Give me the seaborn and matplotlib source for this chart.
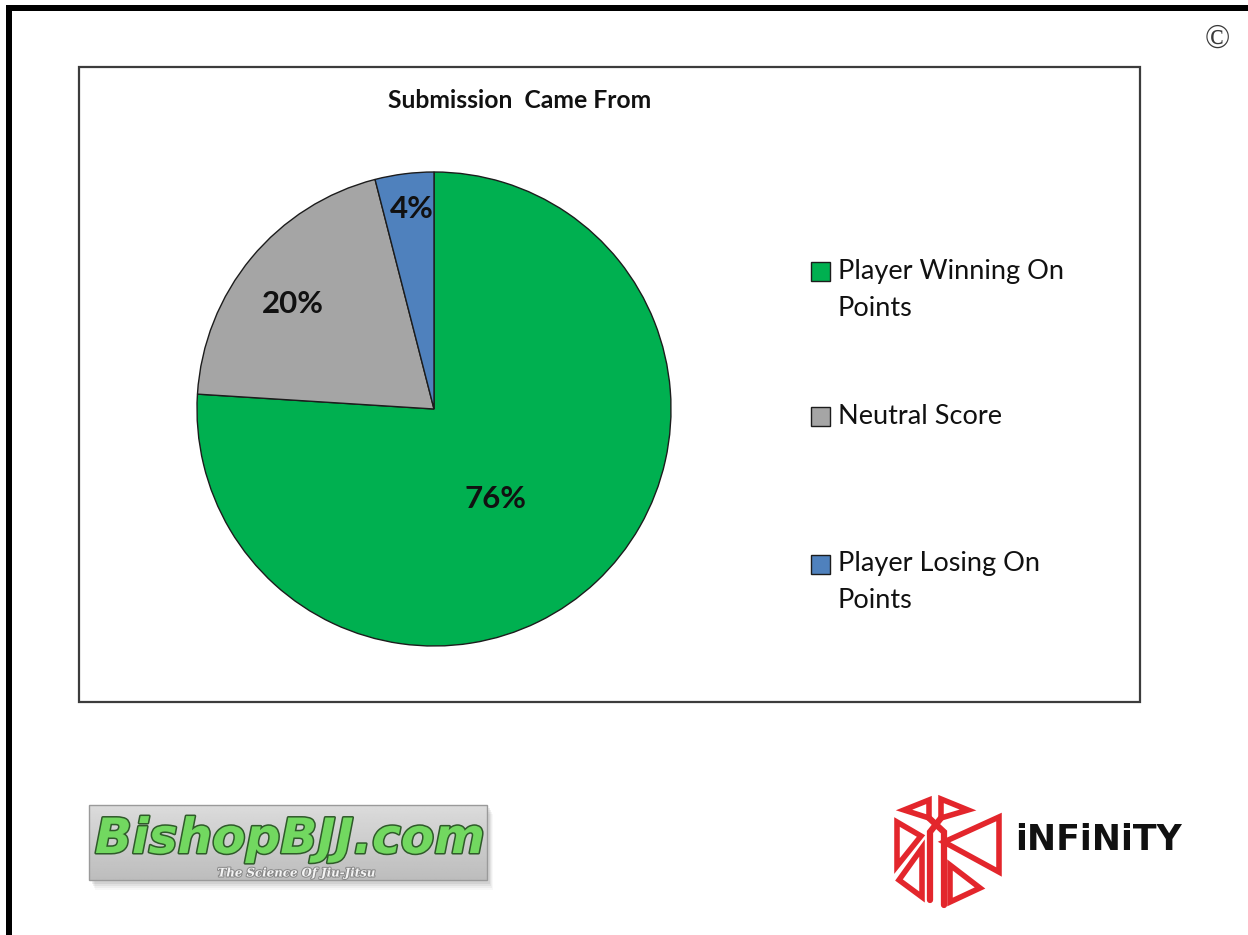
import matplotlib
matplotlib.use("Agg")
import matplotlib.pyplot as plt
import matplotlib.patheffects as pe
from matplotlib.patches import Rectangle, Polygon
import numpy as np
import seaborn as sns

# ---- data -------------------------------------------------------------
categories = ["Player Winning On Points", "Neutral Score", "Player Losing On Points"]
shares = [76, 20, 4]
legend_lines = [["Player Winning On", "Points"], ["Neutral Score"], ["Player Losing On", "Points"]]
slice_colors = ["#00B050", "#A5A5A5", "#4F81BD"]
chart_title = "Submission  Came From"

# ---- style ------------------------------------------------------------
sns.set_theme(style="white")
plt.rcParams["font.family"] = ["Lato", "DejaVu Sans"]
palette = sns.color_palette(slice_colors)

W, H = 1248, 935
fig = plt.figure(figsize=(W / 100, H / 100), dpi=100)
fig.patch.set_facecolor("white")

# Pixel-space overlay for the slide frame, chart box, legend and logos
bg = fig.add_axes([0, 0, 1, 1], zorder=0)
bg.set_xlim(0, W)
bg.set_ylim(H, 0)
bg.axis("off")

# slide frame (top and left bars)
bg.add_patch(Rectangle((6, 5), W - 6, 5.5, facecolor="black", edgecolor="none"))
bg.add_patch(Rectangle((6, 5), 5.5, H - 5, facecolor="black", edgecolor="none"))

# copyright mark
bg.text(1217, 40, "\u00a9", fontsize=24, family=["Liberation Serif", "DejaVu Serif"],
        color="#3a3a3a", ha="center", va="center")

# chart box
bg.add_patch(Rectangle((79, 67), 1061, 635, facecolor="white", edgecolor="#3c3c3c", lw=1.6))
bg.text(520, 100, chart_title, fontsize=17.8, fontweight="bold", color="#111111",
        ha="center", va="center")

# ---- pie --------------------------------------------------------------
cx, cy, r = 434, 409, 237
ax = fig.add_axes([(cx - r) / W, (H - cy - r) / H, 2 * r / W, 2 * r / H], zorder=2)
ax.set_facecolor("none")
wedges, texts, autotexts = ax.pie(
    shares, colors=palette, startangle=90, counterclock=False,
    autopct=lambda p: f"{p:.0f}%",
    wedgeprops=dict(edgecolor="#1c1c1c", linewidth=1.0),
    textprops=dict(fontsize=22.5, fontweight="bold", color="#111111"),
)
ax.set_xlim(-1, 1)
ax.set_ylim(-1, 1)
ax.set_aspect("equal")
ax.axis("off")

# label placement (radius, angular nudge in degrees) per slice
label_place = [(0.46, -9), (0.74, 3), (0.85, -1)]
for w, t, (d, nudge) in zip(wedges, autotexts, label_place):
    mid = np.deg2rad((w.theta1 + w.theta2) / 2 + nudge)
    t.set_position((d * np.cos(mid), d * np.sin(mid)))
    t.set_ha("center")
    t.set_va("center")

# ---- legend -----------------------------------------------------------
entry_y = [271, 416, 564]
for w, lines, y in zip(wedges, legend_lines, entry_y):
    bg.add_patch(Rectangle((811, y - 9.5), 19, 19, facecolor=w.get_facecolor(),
                           edgecolor="#1c1c1c", lw=1.0))
    for k, line in enumerate(lines):
        bg.text(838, y + 37 * k, line, fontsize=19.5, color="#111111",
                ha="left", va="center")

# ---- BishopBJJ.com badge ---------------------------------------------
for i, a in enumerate([0.10, 0.08, 0.06, 0.04]):
    bg.add_patch(Rectangle((92 + i, 808 + i * 2), 398, 76, facecolor="#555555",
                           edgecolor="none", alpha=a))
grad = np.linspace(0.86, 0.74, 60).reshape(-1, 1) * np.ones((1, 200))
bg.imshow(grad, extent=(89, 487, 880, 805), cmap="gray", vmin=0, vmax=1,
          aspect="auto", zorder=1)
bg.add_patch(Rectangle((89, 805), 398, 75, facecolor="none", edgecolor="#9a9a9a",
                       lw=1.0, zorder=2))
bg.text(290, 839, "BishopBJJ.com", fontsize=35, fontweight="bold", style="italic",
        family=["DejaVu Sans"], color="#72d860", ha="center", va="center", zorder=3,
        path_effects=[pe.withStroke(linewidth=2.2, foreground="#2f5a2a")])
bg.text(296, 873, "The Science Of Jiu-Jitsu", fontsize=8.5, fontweight="bold",
        style="italic", family=["DejaVu Serif"], color="#f4f4f4", ha="center",
        va="center", zorder=3,
        path_effects=[pe.withStroke(linewidth=1.5, foreground="#8a8a8a")])

# ---- Infinity mark ----------------------------------------------------
red = "#e3262c"
tris = [
    [(904, 810), (929, 800), (929, 818)],
    [(941, 799), (968, 810), (941, 818)],
    [(897, 822), (921, 836), (897, 866)],
    [(899, 880), (922, 848), (922, 897)],
    [(944, 842), (999, 817), (999, 872)],
    [(950, 865), (980, 888), (950, 902)],
]
for t in tris:
    bg.add_patch(Polygon(t, closed=True, facecolor="none", edgecolor=red, lw=4,
                         joinstyle="miter", zorder=3))
bg.plot([929, 944, 944], [818, 832, 905], color=red, lw=4.5, solid_joinstyle="miter", zorder=3)
bg.plot([941, 930, 930], [818, 832, 900], color=red, lw=4.5, solid_joinstyle="miter", zorder=3)
bg.text(1098, 840, "iNFiNiTY", fontsize=25, fontweight="heavy", family=["DejaVu Sans"],
        color="#111111", ha="center", va="center", zorder=3)

fig.savefig("out.png", dpi=100, facecolor="white")
